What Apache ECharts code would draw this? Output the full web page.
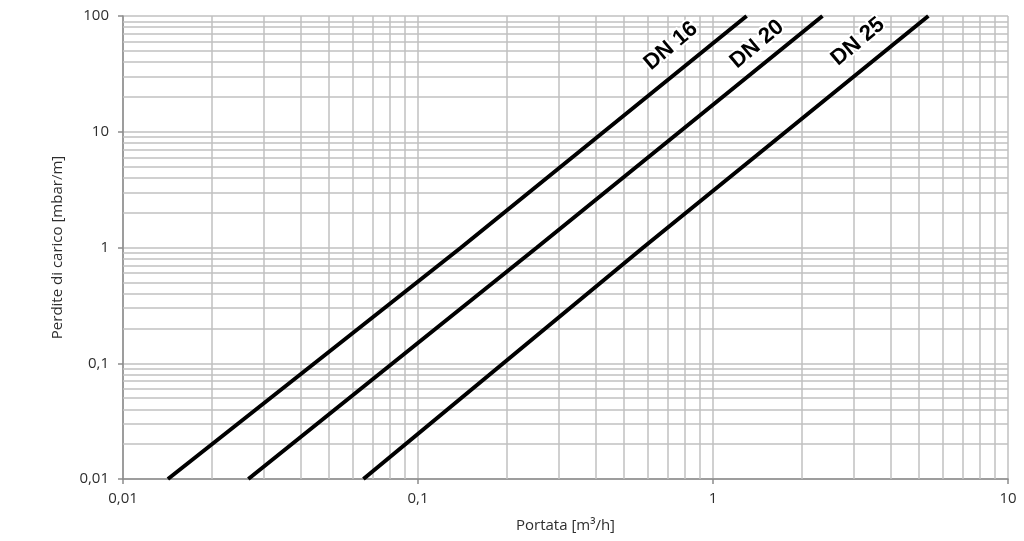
<!DOCTYPE html>
<html>
<head>
<meta charset="utf-8">
<script src="https://cdn.jsdelivr.net/npm/echarts@6/dist/echarts.min.js"></script>
<style>
  html, body { margin: 0; padding: 0; background: #fff; }
  #chart { width: 1024px; height: 541px; }
</style>
</head>
<body>
<div id="chart"></div>
<script>
// portata [m3/h] read at 0,01 / 1 / 100 mbar/m
const yPoints = [0.01, 1, 100];
const dn16 = [0.0142, 0.140, 1.30];
const dn20 = [0.0266, 0.253, 2.35];
const dn25 = [0.0653, 0.580, 5.37];

const seriesNames = ["DN 16", "DN 20", "DN 25"];
// label anchor [portata, perdita]
const labelPos = [[0.72, 55], [1.41, 57], [3.10, 60]];

const xDecades = [0.01, 0.1, 1];
const yDecades = [0.01, 0.1, 1, 10];
const minorSteps = [2, 3, 4, 5, 6, 7, 8, 9];

const gridColor = "#c0c0c0";
const axisColor = "#8c8c8c";
const textColor = "#2e2e2e";
const font = "Open Sans";

function fmt(v) {
  return String(Number(v.toPrecision(3))).replace(".", ",");
}

const minorX = [];
xDecades.forEach(d => minorSteps.forEach(s => minorX.push({ xAxis: +(d * s).toPrecision(3) })));
const minorY = [];
yDecades.forEach(d => minorSteps.forEach(s => minorY.push({ yAxis: +(d * s).toPrecision(3) })));

const curves = [dn16, dn20, dn25];

const series = curves.map((xs, i) => ({
  name: seriesNames[i],
  type: "line",
  data: xs.map((x, j) => [x, yPoints[j]]),
  showSymbol: false,
  symbol: "none",
  lineStyle: { color: "#000", width: 4 },
  z: 5,
  markPoint: {
    symbol: "circle",
    symbolSize: 0,
    silent: true,
    data: [{
      coord: labelPos[i],
      label: {
        show: true,
        formatter: seriesNames[i],
        rotate: 40,
        fontFamily: "Arial, 'Liberation Sans', sans-serif",
        fontWeight: "bold",
        fontSize: 22,
        color: "#000",
        textBorderColor: "#fff",
        textBorderWidth: 4
      }
    }]
  }
}));

// minor grid lines
series.unshift({
  type: "line",
  data: [],
  silent: true,
  z: 1,
  markLine: {
    silent: true,
    symbol: ["none", "none"],
    animation: false,
    label: { show: false },
    lineStyle: { color: gridColor, width: 1.5, type: "solid" },
    data: minorX.concat(minorY)
  }
});

const chart = echarts.init(document.getElementById("chart"), null, { renderer: "canvas" });
chart.setOption({
  animation: false,
  backgroundColor: "#fff",
  grid: { left: 123, right: 16, top: 16, bottom: 62 },
  xAxis: {
    type: "log",
    logBase: 10,
    min: 0.01,
    max: 10,
    name: "Portata [m³/h]",
    nameLocation: "middle",
    nameGap: 39,
    nameTextStyle: { fontFamily: font, fontSize: 15, color: textColor },
    axisLine: { lineStyle: { color: axisColor, width: 1.5 } },
    axisTick: { show: true, length: 5, lineStyle: { color: axisColor, width: 1.5 } },
    axisLabel: { fontFamily: font, fontSize: 15, color: textColor, margin: 12, formatter: fmt },
    splitLine: { show: true, lineStyle: { color: gridColor, width: 1.5 } }
  },
  yAxis: {
    type: "log",
    logBase: 10,
    min: 0.01,
    max: 100,
    name: "Perdite di carico [mbar/m]",
    nameLocation: "middle",
    nameGap: 58,
    nameTextStyle: { fontFamily: font, fontSize: 15, color: textColor },
    axisLine: { show: true, lineStyle: { color: axisColor, width: 1.5 } },
    axisTick: { show: true, length: 5, lineStyle: { color: axisColor, width: 1.5 } },
    axisLabel: { fontFamily: font, fontSize: 15, color: textColor, margin: 14, formatter: fmt },
    splitLine: { show: true, lineStyle: { color: gridColor, width: 1.5 } }
  },
  series: series
});
</script>
</body>
</html>
